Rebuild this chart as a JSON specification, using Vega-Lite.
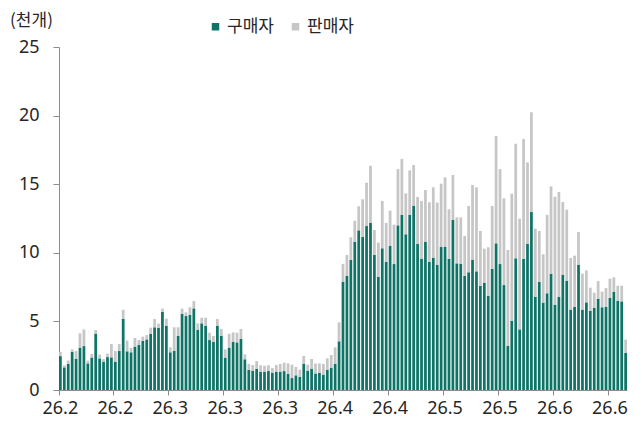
{
  "$schema": "https://vega.github.io/schema/vega-lite/v6.json",
  "width": 568,
  "height": 343,
  "autosize": "none",
  "padding": {"left": 59, "top": 47, "right": 15, "bottom": 35},
  "background": "white",
  "config": {
    "font": "Noto Sans CJK KR",
    "view": {"stroke": null},
    "axis": {"labelColor": "#262626", "titleColor": "#262626", "domainColor": "#8c8c8c", "tickColor": "#8c8c8c", "grid": false}
  },
  "data": {"values": [
{"d":"2026-02-01","구매자":2.47,"판매자":0.30},
{"d":"2026-02-02","구매자":1.65,"판매자":0.15},
{"d":"2026-02-03","구매자":1.90,"판매자":0.25},
{"d":"2026-02-04","구매자":2.77,"판매자":0.19},
{"d":"2026-02-05","구매자":2.28,"판매자":0.56},
{"d":"2026-02-06","구매자":3.09,"판매자":1.04},
{"d":"2026-02-07","구매자":3.20,"판매자":1.22},
{"d":"2026-02-08","구매자":1.94,"판매자":0.20},
{"d":"2026-02-09","구매자":2.36,"판매자":0.26},
{"d":"2026-02-10","구매자":4.11,"판매자":0.26},
{"d":"2026-02-11","구매자":2.30,"판매자":0.28},
{"d":"2026-02-12","구매자":2.07,"판매자":0.19},
{"d":"2026-02-13","구매자":2.40,"판매자":0.25},
{"d":"2026-02-14","구매자":2.38,"판매자":0.97},
{"d":"2026-02-15","구매자":2.07,"판매자":0.77},
{"d":"2026-02-16","구매자":2.84,"판매자":0.51},
{"d":"2026-02-17","구매자":5.20,"판매자":0.65},
{"d":"2026-02-18","구매자":2.82,"판매자":0.78},
{"d":"2026-02-19","구매자":2.75,"판매자":0.33},
{"d":"2026-02-20","구매자":3.16,"판매자":0.63},
{"d":"2026-02-21","구매자":3.30,"판매자":0.34},
{"d":"2026-02-22","구매자":3.57,"판매자":0.32},
{"d":"2026-02-23","구매자":3.69,"판매자":0.31},
{"d":"2026-02-24","구매자":4.10,"판매자":0.44},
{"d":"2026-02-25","구매자":4.57,"판매자":0.60},
{"d":"2026-02-26","구매자":4.54,"판매자":0.29},
{"d":"2026-02-27","구매자":5.69,"판매자":0.24},
{"d":"2026-02-28","구매자":4.69,"판매자":0.51},
{"d":"2026-03-01","구매자":2.75,"판매자":0.36},
{"d":"2026-03-02","구매자":2.87,"판매자":1.70},
{"d":"2026-03-03","구매자":3.96,"판매자":0.61},
{"d":"2026-03-04","구매자":5.56,"판매자":0.37},
{"d":"2026-03-05","구매자":5.39,"판매자":0.27},
{"d":"2026-03-06","구매자":5.47,"판매자":0.56},
{"d":"2026-03-07","구매자":5.95,"판매자":0.54},
{"d":"2026-03-08","구매자":4.40,"판매자":0.46},
{"d":"2026-03-09","구매자":4.86,"판매자":0.41},
{"d":"2026-03-10","구매자":4.69,"판매자":0.58},
{"d":"2026-03-11","구매자":3.64,"판매자":0.54},
{"d":"2026-03-12","구매자":3.50,"판매자":0.44},
{"d":"2026-03-13","구매자":4.69,"판매자":0.48},
{"d":"2026-03-14","구매자":3.96,"판매자":0.49},
{"d":"2026-03-15","구매자":2.36,"판매자":0.60},
{"d":"2026-03-16","구매자":3.09,"판매자":1.01},
{"d":"2026-03-17","구매자":3.52,"판매자":0.68},
{"d":"2026-03-18","구매자":3.47,"판매자":0.71},
{"d":"2026-03-19","구매자":3.72,"판매자":0.73},
{"d":"2026-03-20","구매자":2.24,"판매자":0.36},
{"d":"2026-03-21","구매자":1.46,"판매자":0.44},
{"d":"2026-03-22","구매자":1.41,"판매자":0.41},
{"d":"2026-03-23","구매자":1.53,"판매자":0.58},
{"d":"2026-03-24","구매자":1.34,"판매자":0.46},
{"d":"2026-03-25","구매자":1.34,"판매자":0.43},
{"d":"2026-03-26","구매자":1.38,"판매자":0.42},
{"d":"2026-03-27","구매자":1.26,"판매자":0.34},
{"d":"2026-03-28","구매자":1.34,"판매자":0.48},
{"d":"2026-03-29","구매자":1.34,"판매자":0.56},
{"d":"2026-03-30","구매자":1.38,"판매자":0.61},
{"d":"2026-03-31","구매자":1.19,"판매자":0.75},
{"d":"2026-04-01","구매자":0.87,"판매자":0.98},
{"d":"2026-04-02","구매자":1.07,"판매자":0.61},
{"d":"2026-04-03","구매자":0.95,"판매자":0.53},
{"d":"2026-04-04","구매자":1.92,"판매자":0.56},
{"d":"2026-04-05","구매자":1.41,"판매자":0.44},
{"d":"2026-04-06","구매자":1.56,"판매자":0.70},
{"d":"2026-04-07","구매자":1.21,"판매자":0.73},
{"d":"2026-04-08","구매자":1.26,"판매자":0.68},
{"d":"2026-04-09","구매자":1.12,"판매자":0.78},
{"d":"2026-04-10","구매자":1.48,"판매자":0.83},
{"d":"2026-04-11","구매자":1.63,"판매자":0.92},
{"d":"2026-04-12","구매자":1.92,"판매자":1.19},
{"d":"2026-04-13","구매자":3.55,"판매자":1.38},
{"d":"2026-04-14","구매자":7.90,"판매자":1.28},
{"d":"2026-04-15","구매자":8.33,"판매자":1.51},
{"d":"2026-04-16","구매자":9.48,"판매자":1.65},
{"d":"2026-04-17","구매자":10.81,"판매자":1.53},
{"d":"2026-04-18","구매자":11.64,"판매자":1.75},
{"d":"2026-04-19","구매자":11.15,"판매자":2.75},
{"d":"2026-04-20","구매자":11.95,"판매자":3.16},
{"d":"2026-04-21","구매자":12.19,"판매자":4.16},
{"d":"2026-04-22","구매자":9.84,"판매자":1.82},
{"d":"2026-04-23","구매자":8.24,"판매자":2.50},
{"d":"2026-04-24","구매자":10.33,"판매자":3.45},
{"d":"2026-04-25","구매자":9.35,"판매자":2.82},
{"d":"2026-04-26","구매자":10.52,"판매자":2.55},
{"d":"2026-04-27","구매자":9.18,"판매자":2.87},
{"d":"2026-04-28","구매자":12.00,"판매자":4.10},
{"d":"2026-04-29","구매자":12.78,"판매자":4.06},
{"d":"2026-04-30","구매자":11.35,"판매자":2.98},
{"d":"2026-05-01","구매자":12.78,"판매자":3.23},
{"d":"2026-05-02","구매자":13.44,"판매자":2.96},
{"d":"2026-05-03","구매자":10.64,"판매자":3.43},
{"d":"2026-05-04","구매자":9.57,"판매자":4.21},
{"d":"2026-05-05","구매자":10.81,"판매자":3.77},
{"d":"2026-05-06","구매자":9.35,"판매자":4.33},
{"d":"2026-05-07","구매자":9.65,"판매자":5.12},
{"d":"2026-05-08","구매자":9.11,"판매자":4.55},
{"d":"2026-05-09","구매자":10.42,"판매자":4.62},
{"d":"2026-05-10","구매자":10.45,"판매자":5.05},
{"d":"2026-05-11","구매자":9.57,"판매자":3.60},
{"d":"2026-05-12","구매자":12.39,"판매자":3.28},
{"d":"2026-05-13","구매자":9.23,"판매자":3.35},
{"d":"2026-05-14","구매자":9.21,"판매자":3.37},
{"d":"2026-05-15","구매자":8.33,"판매자":2.89},
{"d":"2026-05-16","구매자":8.58,"판매자":4.83},
{"d":"2026-05-17","구매자":9.50,"판매자":5.44},
{"d":"2026-05-18","구매자":8.65,"판매자":6.12},
{"d":"2026-05-19","구매자":7.60,"판매자":3.99},
{"d":"2026-05-20","구매자":7.80,"판매자":2.50},
{"d":"2026-05-21","구매자":6.85,"판매자":3.55},
{"d":"2026-05-22","구매자":8.84,"판매자":4.57},
{"d":"2026-05-23","구매자":10.69,"판매자":7.82},
{"d":"2026-05-24","구매자":9.18,"판매자":6.92},
{"d":"2026-05-25","구매자":7.65,"판매자":6.32},
{"d":"2026-05-26","구매자":3.21,"판매자":6.99},
{"d":"2026-05-27","구매자":5.05,"판매자":9.26},
{"d":"2026-05-28","구매자":9.60,"판매자":8.35},
{"d":"2026-05-29","구매자":4.42,"판매자":8.07},
{"d":"2026-05-30","구매자":9.55,"판매자":8.74},
{"d":"2026-05-31","구매자":10.64,"판매자":5.95},
{"d":"2026-06-01","구매자":12.97,"판매자":7.27},
{"d":"2026-06-02","구매자":6.80,"판매자":4.96},
{"d":"2026-06-03","구매자":7.87,"판매자":3.72},
{"d":"2026-06-04","구매자":6.37,"판매자":3.52},
{"d":"2026-06-05","구매자":7.05,"판매자":5.71},
{"d":"2026-06-06","구매자":8.48,"판매자":6.36},
{"d":"2026-06-07","구매자":6.22,"판매자":7.87},
{"d":"2026-06-08","구매자":6.80,"판매자":7.63},
{"d":"2026-06-09","구매자":8.41,"판매자":5.29},
{"d":"2026-06-10","구매자":7.97,"판매자":5.17},
{"d":"2026-06-11","구매자":5.86,"판매자":3.76},
{"d":"2026-06-12","구매자":6.07,"판매자":3.72},
{"d":"2026-06-13","구매자":9.14,"판매자":2.38},
{"d":"2026-06-14","구매자":5.86,"판매자":2.62},
{"d":"2026-06-15","구매자":6.39,"판매자":2.33},
{"d":"2026-06-16","구매자":5.78,"판매자":1.68},
{"d":"2026-06-17","구매자":5.98,"판매자":1.11},
{"d":"2026-06-18","구매자":6.66,"판매자":1.28},
{"d":"2026-06-19","구매자":6.03,"판매자":1.14},
{"d":"2026-06-20","구매자":6.07,"판매자":1.36},
{"d":"2026-06-21","구매자":6.71,"판매자":1.40},
{"d":"2026-06-22","구매자":7.17,"판매자":1.04},
{"d":"2026-06-23","구매자":6.51,"판매자":1.09},
{"d":"2026-06-24","구매자":6.46,"판매자":1.14},
{"d":"2026-06-25","구매자":2.70,"판매자":0.97}
  ]},
  "transform": [{"fold": ["구매자", "판매자"], "as": ["series", "value"]}],
  "mark": {"type": "bar"},
  "encoding": {
    "x": {
      "field": "d", "type": "ordinal", "sort": null,
      "scale": {"paddingInner": 0.3, "paddingOuter": 0},
      "axis": {
        "title": null,
        "values": ["2026-02-01","2026-02-15","2026-03-01","2026-03-15","2026-03-29","2026-04-12","2026-04-26","2026-05-10","2026-05-24","2026-06-07","2026-06-21"],
        "labelExpr": "'26.' + parseInt(slice(datum.value, 5, 7))",
        "bandPosition": 0,
        "labelAngle": 0,
        "labelFontSize": 18,
        "labelFont": "Noto Sans",
        "tickSize": 5,
        "labelPadding": 4,
        "labelAlign": "center"
      }
    },
    "y": {
      "field": "value", "type": "quantitative", "stack": "zero",
      "scale": {"domain": [0, 25], "nice": false},
      "axis": {
        "title": "(천개)",
        "titleAngle": 0,
        "titleX": -28,
        "titleY": -27,
        "titleAlign": "center",
        "titleBaseline": "middle",
        "titleFontSize": 17,
        "titleFontWeight": "normal",
        "values": [0, 5, 10, 15, 20, 25],
        "labelFontSize": 18,
        "labelFont": "Noto Sans",
        "tickSize": 6,
        "labelPadding": 14
      }
    },
    "color": {
      "field": "series", "type": "nominal",
      "scale": {"domain": ["구매자", "판매자"], "range": ["#0f7366", "#c6c6c6"]},
      "legend": {
        "title": null,
        "orient": "none",
        "legendX": 148,
        "legendY": -29,
        "direction": "horizontal",
        "symbolType": "square",
        "symbolSize": 56,
        "symbolStrokeWidth": 0,
        "labelFontSize": 17,
        "labelColor": "#262626",
        "labelOffset": 3,
        "columnPadding": 13
      }
    },
    "order": {"field": "series", "sort": "ascending"}
  }
}
